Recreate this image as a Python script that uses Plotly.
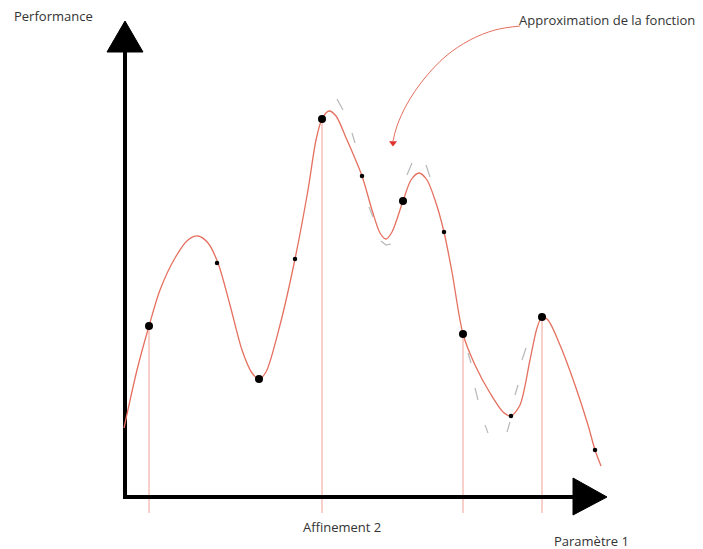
import plotly.graph_objects as go

# Main function approximation curve (red)
curve_x = [124, 137, 149, 160, 175, 188, 198, 208, 218, 230, 242, 252, 259, 266, 280, 295, 308, 316, 322, 329,
           336, 347, 362, 372, 380, 386, 392, 403, 411, 419, 427, 436, 444, 452, 463, 475, 490, 503, 511, 520,
           530, 537, 542, 548, 560, 575, 588, 595, 601]
curve_y = [428, 370, 326, 290, 258, 240, 236, 243, 263, 305, 350, 373, 379, 372, 325, 259, 190, 140, 119, 111,
           116, 140, 176, 210, 233, 239, 232, 201, 180, 173, 180, 203, 232, 272, 334, 365, 393, 412, 416, 405,
           360, 328, 317, 320, 345, 385, 425, 450, 466]

# Gray dashed approximations (segments separated by None)
approx_x = [337, 343, None, 352, 355, None, 369, 373, None, 381, 386, 391, None, 407, 412, None, 426, 430, None,
            468, 471, None, 475, 478, None, 485, 488, None, 507, 510, None, 515, 518, None, 522, 526]
approx_y = [99, 110, None, 133, 143, None, 207, 217, None, 241, 245, 244, None, 175, 163, None, 165, 177, None,
            353, 363, None, 388, 400, None, 425, 433, None, 432, 422, None, 395, 385, None, 360, 348]

# Sampled points
big_x = [149, 259, 322, 403, 463, 542]
big_y = [326, 379, 119, 201, 334, 317]
small_x = [217, 295, 362, 444, 511, 595]
small_y = [263, 259, 176, 232, 416, 450]

# Vertical guide lines (from sample down below the axis)
guide_x = [149, 322, 463, 542]
guide_top = [326, 119, 334, 317]
guide_bottom = 513

# Curved annotation arrow
arc_x = [520, 495, 470, 446, 424, 407, 397, 393]
arc_y = [26, 30, 40, 56, 79, 104, 126, 141]

# Axes geometry
axis_x0, axis_y0 = 125, 497
y_axis_top = 52
x_axis_end = 575
up_tri_x = [107, 143, 125, 107]
up_tri_y = [52, 52, 21, 52]
right_tri_x = [573, 573, 607, 573]
right_tri_y = [478, 515, 497, 478]

RED = "#e5705f"
RED_LIGHT = "#f2a294"

fig = go.Figure()

# guide lines
gx, gy = [], []
for x, t in zip(guide_x, guide_top):
    gx += [x, x, None]
    gy += [t, guide_bottom, None]
fig.add_trace(go.Scatter(x=gx, y=gy, mode="lines", line=dict(color=RED_LIGHT, width=1), hoverinfo="skip"))

# axes
fig.add_trace(go.Scatter(x=[axis_x0, axis_x0, None, axis_x0 - 2, x_axis_end],
                         y=[y_axis_top, axis_y0 + 2, None, axis_y0, axis_y0],
                         mode="lines", line=dict(color="black", width=4), hoverinfo="skip"))
fig.add_trace(go.Scatter(x=up_tri_x, y=up_tri_y, mode="lines", fill="toself", fillcolor="black",
                         line=dict(color="black", width=1), hoverinfo="skip"))
fig.add_trace(go.Scatter(x=right_tri_x, y=right_tri_y, mode="lines", fill="toself", fillcolor="black",
                         line=dict(color="black", width=1), hoverinfo="skip"))

# gray approximations
fig.add_trace(go.Scatter(x=approx_x, y=approx_y, mode="lines", line=dict(color="#b8b8b8", width=1.2),
                         connectgaps=False, hoverinfo="skip"))

# main curve
fig.add_trace(go.Scatter(x=curve_x, y=curve_y, mode="lines", line=dict(color=RED, width=1.3, shape="spline", smoothing=0.8),
                         hoverinfo="skip"))

# points
fig.add_trace(go.Scatter(x=big_x, y=big_y, mode="markers", marker=dict(color="black", size=8), hoverinfo="skip"))
fig.add_trace(go.Scatter(x=small_x, y=small_y, mode="markers", marker=dict(color="black", size=4.5), hoverinfo="skip"))

# curved arrow
fig.add_trace(go.Scatter(x=arc_x, y=arc_y, mode="lines", line=dict(color=RED, width=1, shape="spline"), hoverinfo="skip"))
fig.add_trace(go.Scatter(x=[arc_x[-1]], y=[arc_y[-1] + 2], mode="markers",
                         marker=dict(symbol="triangle-down", size=7, color="#e0302a"), hoverinfo="skip"))

font = dict(family="Open Sans", size=13, color="#333333")
fig.add_annotation(x=12, y=16, text="Performance", showarrow=False, xanchor="left", yanchor="middle", font=font)
fig.add_annotation(x=517, y=20, text="Approximation de la fonction", showarrow=False, xanchor="left", yanchor="middle", font=font)
fig.add_annotation(x=342, y=527, text="Affinement 2", showarrow=False, xanchor="center", yanchor="middle", font=font)
fig.add_annotation(x=591, y=541, text="Paramètre 1", showarrow=False, xanchor="center", yanchor="middle", font=font)

fig.update_layout(
    width=703, height=549, margin=dict(l=0, r=0, t=0, b=0),
    paper_bgcolor="white", plot_bgcolor="white", showlegend=False,
    xaxis=dict(range=[0, 703], visible=False, fixedrange=True),
    yaxis=dict(range=[549, 0], visible=False, fixedrange=True),
)

fig.write_html("out.html", config={"displayModeBar": False},
               post_script="document.body.style.margin='0';document.body.style.overflow='hidden';")
